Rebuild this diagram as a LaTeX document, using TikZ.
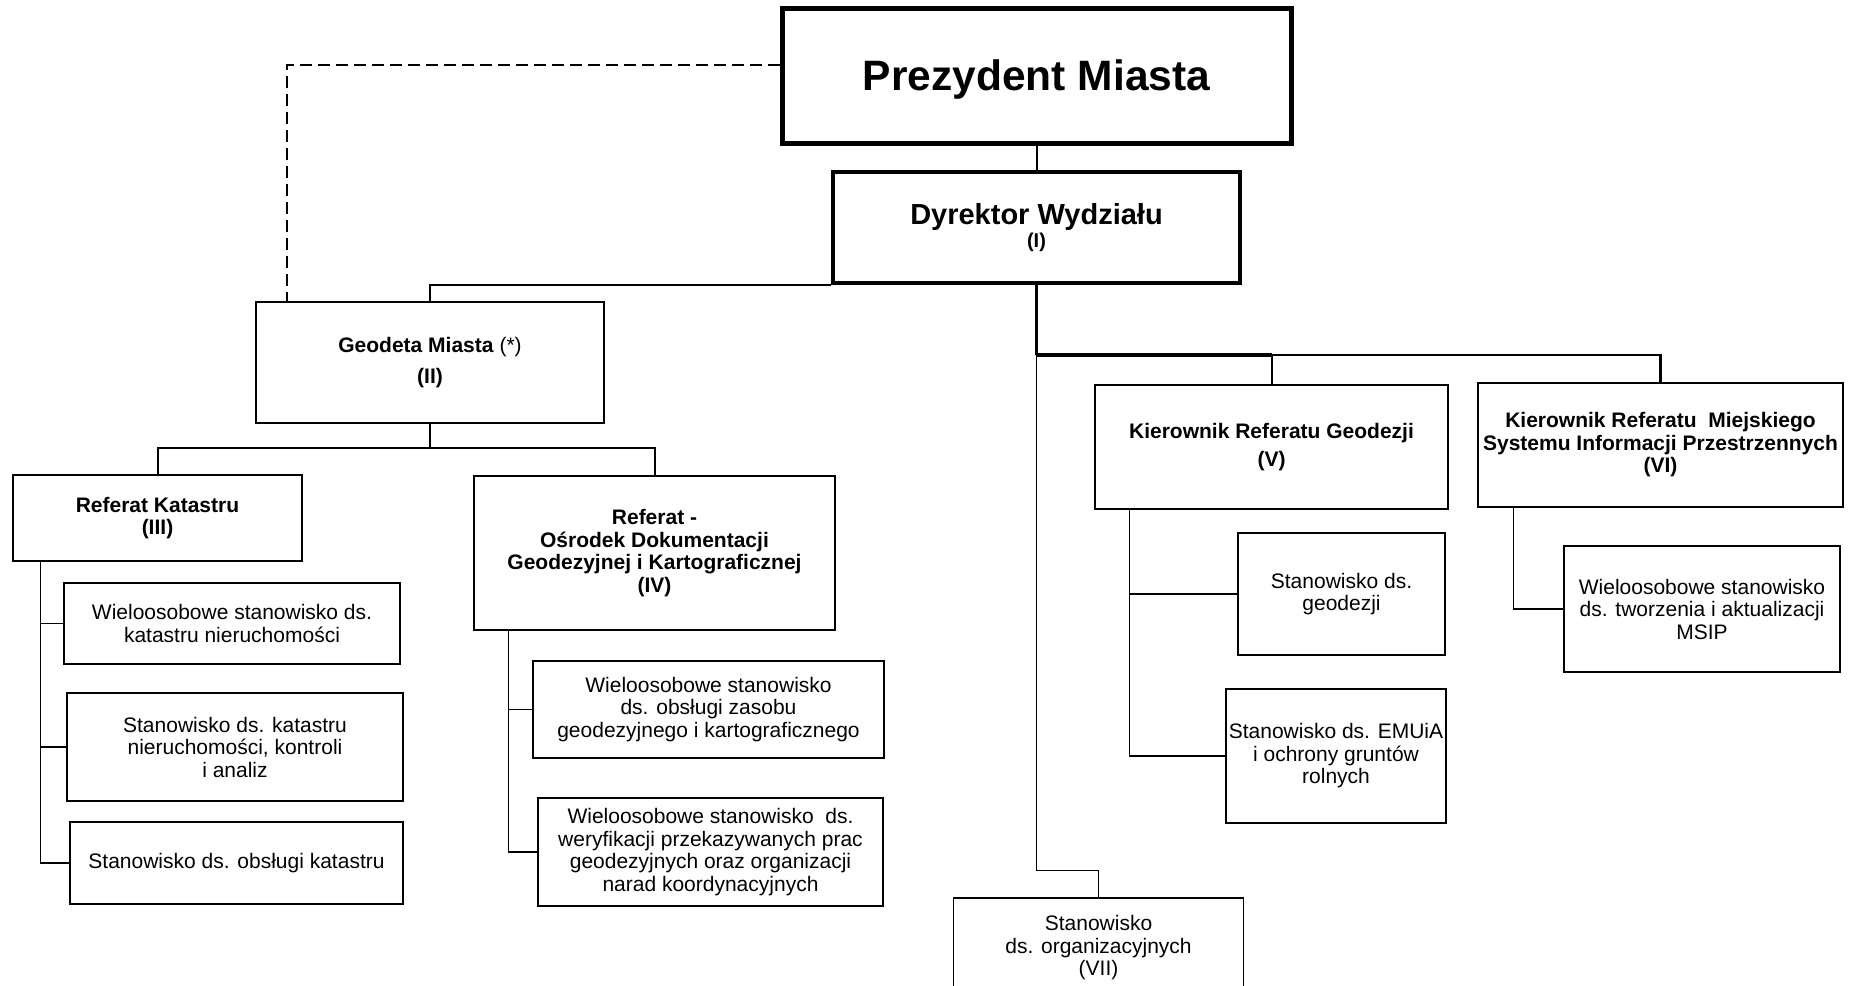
\documentclass[tikz,border=0pt]{standalone}
\usepackage{fontspec}
\setmainfont{Liberation Sans}
\begin{document}
\begin{tikzpicture}[x=1pt, y=-1pt,
  sz/.style 2 args={minimum width=#1pt, minimum height=#2pt},
  box/.style={draw, line width=1.6pt, align=center, inner sep=0pt, font=\fontsize{21}{22.5}\selectfont},
  head/.style={box, line width=2.6pt, font=\bfseries\fontsize{21}{22.5}\selectfont}]
  \useasboundingbox (0,0) rectangle (1857,985);
  \node(P)[box, line width=5pt, sz={509}{135}, font=\bfseries\fontsize{42.5}{48}\selectfont] at(1036.5,75.5) {\raisebox{-4pt}[\height][\depth]{Prezydent Miasta}};
  \node(U1)[box, line width=3.5pt, sz={407}{111}, font=\bfseries\fontsize{29}{23}\selectfont] at(1036.5,227.5) {Dyrektor Wydziału\\{\fontsize{20}{23}\selectfont (I)}};
  \node(U2)[head, sz={348}{121}] at(430,362.5) {Geodeta Miasta \textmd{(*)}\\[8pt](II)};
  \node(U3)[head, sz={289}{86}] at(157.5,518) {Referat Katastru\\(III)};
  \node(U4)[head, sz={361}{154}] at(654.5,553) {Referat -\\Ośrodek Dokumentacji\\Geodezyjnej i Kartograficznej\\(IV)};
  \node(U5)[head, sz={353}{124}] at(1271.5,447) {Kierownik Referatu Geodezji\\[6pt](V)};
  \node(U6)[head, sz={365}{124}] at(1660.5,445) {Kierownik Referatu\ \ Miejskiego\\Systemu Informacji Przestrzennych\\(VI)};
  % stanowiska
  \node(S1)[box, sz={336}{81}] at(232,623.5) {Wieloosobowe stanowisko ds.\\katastru nieruchomości};
  \node(S2)[box, sz={336}{108}] at(235,747) {Stanowisko ds. katastru\\nieruchomości, kontroli\\i analiz};
  \node(S3)[box, sz={333}{82}] at(236.5,863) {Stanowisko ds. obsługi katastru};
  \node(S4)[box, sz={351}{97}] at(708.5,709.5) {Wieloosobowe stanowisko\\ds. obsługi zasobu\\geodezyjnego i kartograficznego};
  \node(S5)[box, sz={345}{108}] at(710.5,852) {Wieloosobowe stanowisko\ \ ds.\\weryfikacji przekazywanych prac\\geodezyjnych oraz organizacji\\narad koordynacyjnych};
  \node(S6)[box, sz={207}{122}] at(1341.5,594) {Stanowisko ds.\\geodezji};
  \node(S7)[box, sz={220}{134}] at(1336,756) {Stanowisko ds. EMUiA\\i ochrony gruntów\\rolnych};
  \node(S8)[box, sz={276}{126}] at(1702,609) {Wieloosobowe stanowisko\\ds. tworzenia i aktualizacji\\MSIP};
  \node(S9)[box, sz={290}{100}] at(1098.5,948) {Stanowisko\\ds. organizacyjnych\\(VII)};
  \coordinate(bus) at(1036.5,355);
  \coordinate(bend) at(1036.5,870);
  \coordinate(gbus) at(430,448);
  \draw[line width=2pt](P)--(U1);
  \draw[line width=2pt, dash pattern=on 12pt off 6pt]([yshift=11pt]P.west) -| ([xshift=-143pt]U2.north);
  \draw[line width=2pt](U1.south west) -| (U2.north);
  \draw[line width=3pt](U1)--(bus);
  \draw[line width=4pt](bus)--(bus -| U5.north);
  \draw[line width=2.5pt](bus -| U5.north)--(bus -| U6.north)--(U6);
  \draw[line width=2pt](bus -| U5.north)--(U5);
  \draw[line width=1pt](bus)--(bend) -| (S9);
  \draw[line width=2pt](U2)--(gbus);
  \draw[line width=2pt](U3) |- (gbus) -| (U4);
  % linie do stanowisk
  \foreach \u/\d/\list in {U3/29/{S1,S2,S3}, U4/36/{S4,S5}, U5/36/{S6,S7}, U6/37/{S8}}{%
    \foreach \s in \list{%
      \draw[line width=1.5pt]([xshift=\d pt]\u.south west) |- (\s.west);
    }
  }
\end{tikzpicture}
\end{document}
